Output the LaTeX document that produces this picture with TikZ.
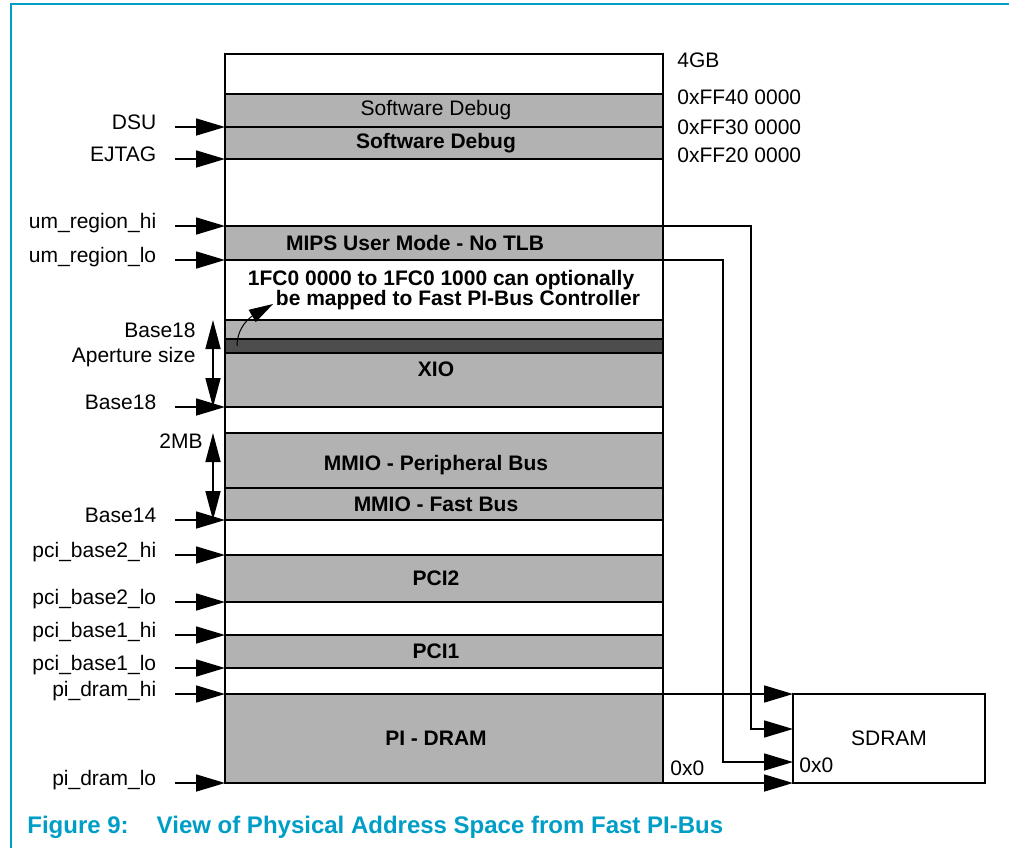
\documentclass[tikz,border=0pt]{standalone}
\usepackage{fontspec}
\setmainfont{Liberation Sans}
\usetikzlibrary{arrows.meta,positioning}
\definecolor{regionGray}{RGB}{178,178,178}
\definecolor{bandGray}  {RGB}{ 77, 77, 77}
\definecolor{capCyan}   {RGB}{  0,158,198}
\newcommand{\lblfont}{\fontsize{10.5}{12}\selectfont}
\newcommand{\capfont}{\fontsize{12}{14}\selectfont\bfseries}

\begin{document}
\begin{tikzpicture}[x=0.5pt, y=-0.5pt,
    region/.style={draw, line width=0.8pt, fill=white,
                   minimum width=219pt, inner sep=0pt, outer sep=0pt,
                   font=\lblfont\bfseries, align=center},
    used/.style={region, fill=regionGray,
                 execute at end node=\hspace*{8pt}},
    sig/.style={{Triangle[length=14.5pt,width=8.5pt]}-, line width=0.8pt},
    span/.style={{Triangle[length=14.5pt,width=7.5pt]}-{Triangle[length=14.5pt,width=7.5pt]},
                 line width=0.8pt},
    map/.style={-{Triangle[length=14.5pt,width=8.5pt]}, line width=0.8pt},
    lbl/.style={anchor=base east, xshift=-9pt, yshift=-1pt,
                inner sep=0pt, font=\lblfont},
    txt/.style={inner sep=0pt, font=\lblfont}]
  \useasboundingbox (0,0) rectangle (1009,848);
  \draw[capCyan, line width=0.7pt] (11,848) -- (11,4) -- (1009,4);

  % address map, top to bottom
  \node[region, anchor=north west, minimum height=20pt] (top) at (225,54) {};
  \node[used, below=0pt of top, minimum height=16.5pt, font=\lblfont] (sd1) {Software Debug};
  \node[used, below=0pt of sd1, minimum height=16pt] (sd2) {Software Debug};
  \node[region, below=0pt of sd2, minimum height=33.5pt] (gap1) {};
  \node[used, below=0pt of gap1, minimum height=17pt] (mips) {MIPS User Mode - No TLB\hspace*{21pt}};
  \node[region, below=0pt of mips, minimum height=30pt, align=left,
        font=\fontsize{10.5}{10}\selectfont\bfseries] (boot)
    {1FC0 0000 to 1FC0 1000 can optionally\\\hspace*{14pt}be mapped to Fast PI-Bus Controller};
  \node[used, below=0pt of boot, minimum height=43.5pt, text height=12.6pt] (xio) {XIO};
  \node[region, fill=bandGray, below=9.5pt of boot, minimum height=7pt] (band) {};
  \node[region, below=0pt of xio, minimum height=13pt] (gap2) {};
  \node[used, below=0pt of gap2, minimum height=27.5pt, text height=12.6pt] (mmiop) {MMIO - Peripheral Bus};
  \node[used, below=0pt of mmiop, minimum height=16pt] (mmiof) {MMIO - Fast Bus};
  \node[region, below=0pt of mmiof, minimum height=17.5pt] (gap3) {};
  \node[used, below=0pt of gap3, minimum height=23.5pt] (pci2) {PCI2};
  \node[region, below=0pt of pci2, minimum height=16.5pt] (gap4) {};
  \node[used, below=0pt of gap4, minimum height=16.5pt] (pci1) {PCI1};
  \node[region, below=0pt of pci1, minimum height=13pt] (gap5) {};
  \node[used, below=0pt of gap5, minimum height=44.5pt] (dram) {PI - DRAM};

  % addresses on the right
  \node[txt, anchor=west] (a4g)   at ([xshift=7pt,yshift=-3pt]top.north east) {4GB};
  \node[txt, anchor=west] (aff40) at ([xshift=7pt,yshift=-1.5pt]sd1.north east) {0xFF40 0000};
  \node[txt, anchor=west] (aff30) at ([xshift=7pt]sd2.north east) {0xFF30 0000};
  \node[txt, anchor=west] (aff20) at ([xshift=7pt,yshift=2pt]sd2.south east) {0xFF20 0000};

  % registers on the left
  \draw[sig] (sd1.south west)   -- ++(-50,0) node[lbl] (dsu)    {DSU};
  \draw[sig] (sd2.south west)   -- ++(-50,0) node[lbl] (ejtag)  {EJTAG};
  \draw[sig] (mips.north west)  -- ++(-50,0) node[lbl] (umhi)   {um\_region\_hi};
  \draw[sig] (mips.south west)  -- ++(-50,0) node[lbl] (umlo)   {um\_region\_lo};
  \draw[sig] (xio.south west)   -- ++(-50,0) node[lbl] (b18lo)  {Base18};
  \draw[sig] (mmiof.south west) -- ++(-50,0) node[lbl] (b14)    {Base14};
  \draw[sig] (pci2.north west)  -- ++(-50,0) node[lbl] (p2hi)   {pci\_base2\_hi};
  \draw[sig] (pci2.south west)  -- ++(-50,0) node[lbl] (p2lo)   {pci\_base2\_lo};
  \draw[sig] (pci1.north west)  -- ++(-50,0) node[lbl] (p1hi)   {pci\_base1\_hi};
  \draw[sig] (pci1.south west)  -- ++(-50,0) node[lbl] (p1lo)   {pci\_base1\_lo};
  \draw[sig] (dram.north west)  -- ++(-50,0) node[lbl] (drhi)   {pi\_dram\_hi};
  \draw[sig] (dram.south west)  -- ++(-50,0) node[lbl] (drlo)   {pi\_dram\_lo};

  % sizes
  \draw[span] ([xshift=-6pt]xio.north west) -- ([xshift=-6pt]xio.south west);
  \draw[span] ([xshift=-6pt]mmiop.north west) -- ([xshift=-6pt]mmiof.south west);
  \node[txt, anchor=base east] (b18hi) at ([xshift=-14.5pt,yshift=-8.5pt]xio.north west) {Base18};
  \node[txt, anchor=base east] (aper)  at ([xshift=-14.5pt,yshift=-21pt]xio.north west) {Aperture size};
  \node[txt, anchor=base east] (mb2)   at ([xshift=-11pt,yshift=-7.5pt]mmiop.north west) {2MB};

  \draw[line width=0.5pt, -{Triangle[length=12pt,width=7pt]}]
    ([xshift=6pt]band.west) to[out=90,in=210] ([xshift=24pt,yshift=8pt]boot.south west);

  % SDRAM
  \node[draw, line width=0.8pt, minimum width=96pt, minimum height=44.5pt,
        inner sep=0pt, outer sep=0pt, font=\lblfont,
        right=65pt of dram.north east, anchor=north west] (sdram) {SDRAM};
  \node[txt, anchor=west] (sdbase) at ([xshift=3pt,yshift=9pt]sdram.south west) {0x0};
  \node[txt, anchor=west] (drbase) at ([xshift=3.5pt,yshift=7.5pt]dram.south east) {0x0};
  \draw[map] (mips.north east) -- ++(88,0) |- ([yshift=4.75pt]sdram.west);
  \draw[map] (mips.south east) -- ++(60,0) |- ([yshift=-11.75pt]sdram.west);
  \draw[map] (dram.north east) -- (sdram.north west);
  \draw[map] (dram.south east) -- (sdram.south west);

  \node[anchor=west, inner sep=0pt, text=capCyan, font=\capfont] (caption) at (27,827)
    {Figure 9:\hspace{14pt}View of Physical Address Space from Fast PI-Bus};
\end{tikzpicture}
\end{document}
